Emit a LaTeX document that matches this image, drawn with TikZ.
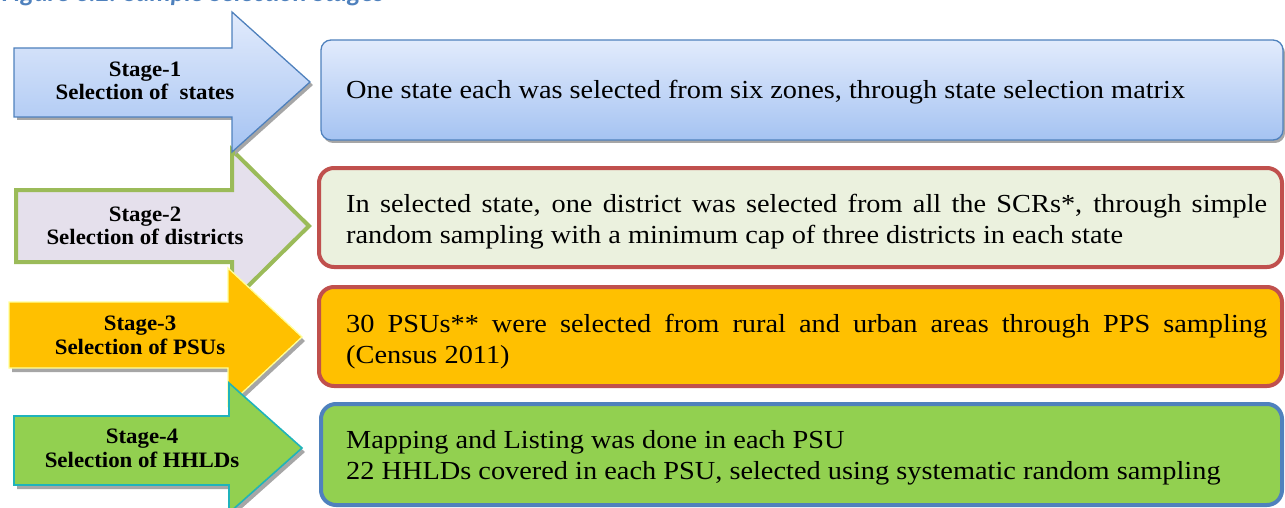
\documentclass[tikz,border=0pt]{standalone}
\usepackage{fontspec}
\setmainfont{Liberation Serif}[FakeStretch=1.04]
\newfontfamily\bodyfont{Liberation Serif}[FakeStretch=1.09]
\newfontfamily\titlefont{Carlito}
\definecolor{blueline}{HTML}{4F81BD}
\definecolor{bluetop}{HTML}{E2EBFC}
\definecolor{bluebot}{HTML}{A5C3F2}
\definecolor{redline}{HTML}{C0504D}
\definecolor{lightgreen}{HTML}{EBF1DE}
\definecolor{amber}{HTML}{FFC000}
\definecolor{leaf}{HTML}{92D050}
\definecolor{lavender}{HTML}{E5E0EC}
\definecolor{olive}{HTML}{9BBB59}
\definecolor{teal}{HTML}{1FB3BB}
\definecolor{paleyellow}{HTML}{FFFF99}
\definecolor{shadowgray}{HTML}{A6A6A6}
\tikzset{
  stagetext/.style={font=\bfseries\fontsize{22}{24}\selectfont, anchor=base, inner sep=0pt},
  bodytext/.style={font=\bodyfont\fontsize{26}{31}\selectfont, anchor=base west, inner sep=0pt},
  shadowfill/.style={fill=shadowgray, draw=none},
}
\begin{document}
\begin{tikzpicture}[x=1pt,y=-1pt]
\useasboundingbox (0,0) rectangle (1285,508);
\begin{scope}
\clip (0,0) rectangle (1285,508);
% title (clipped at top, as in the source figure)
\node[anchor=base west, inner sep=0pt, text=blueline, font=\titlefont\bfseries\itshape\fontsize{26}{28}\selectfont] (title) at (2,2) {Figure 3.2: Sample Selection Stages};

% ---------- arrows ----------
% arrow 2
\draw[line width=4pt, draw=olive, fill=lavender, line join=miter]
  (16,190) -- (232,190) -- (232,150) -- (309,226) -- (232,302) -- (232,262) -- (16,262) -- cycle;
% arrow 1
\path[shadowfill, shift={(3,3)}]
  (14,48) -- (232,48) -- (232,12) -- (310,82) -- (232,152) -- (232,117) -- (14,117) -- cycle;
\draw[line width=1.3pt, draw=blueline, top color=bluetop, bottom color=bluebot]
  (14,48) -- (232,48) -- (232,12) -- (310,82) -- (232,152) -- (232,117) -- (14,117) -- cycle;
% arrow 3
\path[shadowfill, shift={(3,4)}]
  (9,302) -- (228,302) -- (228,268) -- (302,337) -- (228,406) -- (228,368) -- (9,368) -- cycle;
\draw[line width=1.3pt, draw=paleyellow, fill=amber]
  (9,302) -- (228,302) -- (228,268) -- (302,337) -- (228,406) -- (228,368) -- (9,368) -- cycle;
% arrow 4
\path[shadowfill, shift={(3,4)}]
  (14,416) -- (229,416) -- (229,383) -- (302,448) -- (229,513) -- (229,485) -- (14,485) -- cycle;
\draw[line width=1.6pt, draw=teal, fill=leaf]
  (14,416) -- (229,416) -- (229,383) -- (302,448) -- (229,513) -- (229,485) -- (14,485) -- cycle;

% ---------- boxes ----------
\path[shadowfill, rounded corners=10pt, shift={(2,3)}] (321,40) rectangle (1283,140);
\draw[line width=1.3pt, draw=blueline, top color=bluetop, bottom color=bluebot, rounded corners=10pt]
  (321,40) rectangle (1283,140);
\draw[line width=4pt, draw=redline, fill=lightgreen, rounded corners=15pt]
  (319,168) rectangle (1282,267);
\draw[line width=4pt, draw=redline, fill=amber, rounded corners=15pt]
  (319,287) rectangle (1282,386);
\draw[line width=4pt, draw=blueline, fill=leaf, rounded corners=15pt]
  (321,404) rectangle (1282,505);
\end{scope}

% ---------- stage labels ----------
\node[stagetext] (s1a) at (145,77) {Stage-1};
\node[stagetext] (s1b) at (145,100) {Selection of \ states};
\node[stagetext] (s2a) at (145,221) {Stage-2};
\node[stagetext] (s2b) at (145,244) {Selection of districts};
\node[stagetext] (s3a) at (140,330) {Stage-3};
\node[stagetext] (s3b) at (140,354) {Selection of PSUs};
\node[stagetext] (s4a) at (142,443) {Stage-4};
\node[stagetext] (s4b) at (142,467) {Selection of HHLDs};

% ---------- box texts ----------
\node[bodytext] (t1) at (346,99) {One state each was selected from six zones, through state selection matrix};
\node[bodytext] (t2a) at (346,212) {\makebox[921pt][s]{In selected state, one district was selected from all the SCRs*, through simple}};
\node[bodytext] (t2b) at (346,243) {random sampling with a minimum cap of three districts in each state};
\node[bodytext] (t3a) at (346,332) {\makebox[921pt][s]{30 PSUs** were selected from rural and urban areas through PPS sampling}};
\node[bodytext] (t3b) at (346,363) {(Census 2011)};
\node[bodytext] (t4a) at (346,448) {Mapping and Listing was done in each PSU};
\node[bodytext] (t4b) at (346,479) {22 HHLDs covered in each PSU, selected using systematic random sampling};
\end{tikzpicture}
\end{document}
